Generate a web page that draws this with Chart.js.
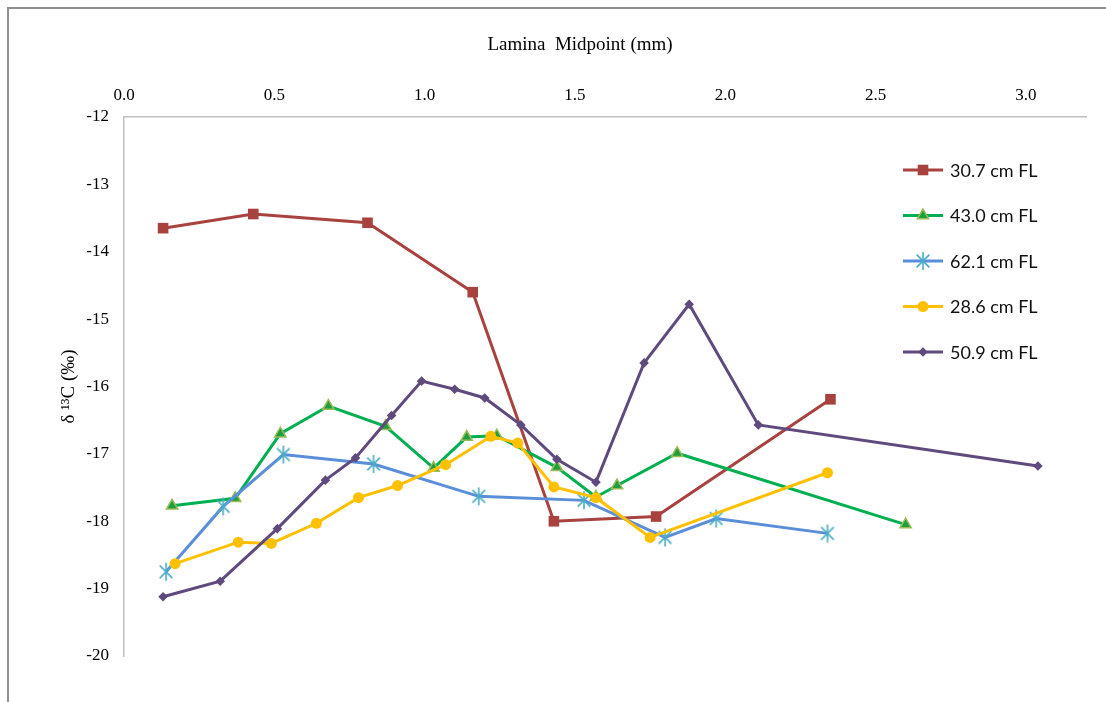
<!DOCTYPE html>
<html>
<head>
<meta charset="utf-8">
<script src="https://cdn.jsdelivr.net/npm/chart.js@4.4.1/dist/chart.umd.min.js"></script>
<style>
  html, body { margin: 0; padding: 0; background: #fff; }
  #wrap { width: 1106px; height: 702px; position: relative; }
</style>
</head>
<body>
<div id="wrap"><canvas id="c" width="1106" height="702"></canvas></div>
<script>
// Lamina midpoint (mm) and δ13C (‰) for each fish
const seriesNames = ['30.7 cm FL', '43.0 cm FL', '62.1 cm FL', '28.6 cm FL', '50.9 cm FL'];

const fl307X = [0.13, 0.43, 0.81, 1.16, 1.43, 1.77, 2.35];
const fl307Y = [-13.65, -13.44, -13.57, -14.60, -18.00, -17.93, -16.19];

const fl430X = [0.16, 0.37, 0.52, 0.68, 0.87, 1.03, 1.14, 1.24, 1.44, 1.57, 1.64, 1.84, 2.60];
const fl430Y = [-17.77, -17.66, -16.70, -16.29, -16.59, -17.21, -16.75, -16.73, -17.20, -17.64, -17.47, -16.99, -18.05];

const fl621X = [0.14, 0.33, 0.53, 0.83, 1.18, 1.53, 1.80, 1.97, 2.34];
const fl621Y = [-18.75, -17.78, -17.01, -17.15, -17.63, -17.69, -18.24, -17.96, -18.18];

const fl286X = [0.17, 0.38, 0.49, 0.64, 0.78, 0.91, 1.07, 1.22, 1.31, 1.43, 1.57, 1.75, 2.34];
const fl286Y = [-18.63, -18.31, -18.33, -18.03, -17.65, -17.47, -17.16, -16.74, -16.84, -17.49, -17.65, -18.24, -17.28];

const fl509X = [0.13, 0.32, 0.51, 0.67, 0.77, 0.89, 0.99, 1.10, 1.20, 1.32, 1.44, 1.57, 1.73, 1.88, 2.11, 3.04];
const fl509Y = [-19.12, -18.89, -18.11, -17.39, -17.06, -16.43, -15.92, -16.04, -16.17, -16.57, -17.08, -17.42, -15.65, -14.78, -16.57, -17.18];

const xTickValues = [0.0, 0.5, 1.0, 1.5, 2.0, 2.5, 3.0];
const yTickValues = [-20, -19, -18, -17, -16, -15, -14, -13, -12];

const xTitle = 'Lamina  Midpoint (mm)';
const yTitle = 'δ ¹³C (‰)';

const toPoints = (xs, ys) => xs.map((x, i) => ({ x: x, y: ys[i] }));

// six-spoke asterisk marker
function makeStar(color) {
  const s = 20;
  const cv = document.createElement('canvas');
  cv.width = s; cv.height = s;
  const g = cv.getContext('2d');
  g.strokeStyle = color;
  g.lineWidth = 1.6;
  const c = s / 2, r = 9;
  g.beginPath();
  g.moveTo(c, c - r); g.lineTo(c, c + r);
  const a = Math.PI / 4;
  g.moveTo(c - r * Math.cos(a), c - r * Math.sin(a)); g.lineTo(c + r * Math.cos(a), c + r * Math.sin(a));
  g.moveTo(c + r * Math.cos(a), c - r * Math.sin(a)); g.lineTo(c - r * Math.cos(a), c + r * Math.sin(a));
  g.stroke();
  return cv;
}
const starMarker = makeStar('#4BACC6');

const styles = [
  { line: '#A8423F', fill: '#A8423F', border: '#A8423F', style: 'rect', r: 7.5, bw: 0 },
  { line: '#00B050', fill: '#1E9E3C', border: '#9BBB59', style: 'triangle', r: 6.5, bw: 1.5 },
  { line: '#5A8ED8', fill: '#4BACC6', border: '#4BACC6', style: starMarker, r: 10, bw: 0 },
  { line: '#FFC000', fill: '#FFC000', border: '#FFC000', style: 'circle', r: 5.5, bw: 0 },
  { line: '#5F4A7D', fill: '#5F4A7D', border: '#5F4A7D', style: 'rectRot', r: 4.8, bw: 0 }
];
const seriesData = [
  toPoints(fl307X, fl307Y),
  toPoints(fl430X, fl430Y),
  toPoints(fl621X, fl621Y),
  toPoints(fl286X, fl286Y),
  toPoints(fl509X, fl509Y)
];

const datasets = seriesData.map((d, i) => ({
  label: seriesNames[i],
  data: d,
  borderColor: styles[i].line,
  borderWidth: 3,
  backgroundColor: styles[i].fill,
  pointBackgroundColor: styles[i].fill,
  pointBorderColor: styles[i].border,
  pointBorderWidth: styles[i].bw,
  pointStyle: styles[i].style,
  pointRadius: styles[i].r,
  pointHoverRadius: styles[i].r,
  tension: 0,
  order: seriesData.length - i
}));

const frame = {
  id: 'frame',
  beforeDraw(chart) {
    const ctx = chart.ctx;
    ctx.save();
    ctx.fillStyle = '#fff';
    ctx.fillRect(0, 0, chart.width, chart.height);
    ctx.strokeStyle = '#8f8f8f';
    ctx.lineWidth = 2;
    ctx.beginPath();
    ctx.moveTo(8, chart.height); ctx.lineTo(8, 8); ctx.lineTo(chart.width, 8);
    ctx.stroke();
    ctx.restore();
  }
};

const topTitle = {
  id: 'topTitle',
  afterDraw(chart) {
    const ctx = chart.ctx;
    ctx.save();
    ctx.font = '19px "Liberation Serif", "Times New Roman", serif';
    ctx.fillStyle = '#000';
    ctx.textAlign = 'center';
    ctx.textBaseline = 'middle';
    ctx.fillText(xTitle, 580, 45);
    ctx.restore();
  }
};

const sideLegend = {
  id: 'sideLegend',
  afterDraw(chart) {
    const ctx = chart.ctx;
    const x0 = 903, x1 = 943, tx = 950;
    const y0 = 170, dy = 45.5;
    ctx.save();
    chart.data.datasets.forEach((ds, i) => {
      const y = y0 + i * dy;
      ctx.strokeStyle = ds.borderColor;
      ctx.lineWidth = 3;
      ctx.beginPath();
      ctx.moveTo(x0, y); ctx.lineTo(x1, y);
      ctx.stroke();
      ctx.fillStyle = ds.pointBackgroundColor;
      ctx.strokeStyle = ds.pointBorderColor;
      ctx.lineWidth = ds.pointBorderWidth;
      Chart.helpers.drawPoint(ctx, {
        pointStyle: ds.pointStyle,
        radius: ds.pointRadius,
        rotation: 0,
        borderWidth: ds.pointBorderWidth
      }, (x0 + x1) / 2, y);
      ctx.fillStyle = '#111';
      ctx.font = '18px Lato, "Noto Sans", sans-serif';
      ctx.textAlign = 'left';
      ctx.textBaseline = 'middle';
      ctx.fillText(ds.label, tx, y + 1);
    });
    ctx.restore();
  }
};

const tickFont = { family: '"Liberation Serif", "Times New Roman", serif', size: 17 };
const yTitleFont = { family: '"Liberation Serif", "Times New Roman", serif', size: 19 };

new Chart(document.getElementById('c'), {
  type: 'line',
  data: { datasets: datasets },
  plugins: [frame, topTitle, sideLegend],
  options: {
    responsive: false,
    animation: false,
    devicePixelRatio: 1,
    layout: { padding: { left: 58, top: 60, right: 20, bottom: 46 } },
    plugins: { legend: { display: false }, tooltip: { enabled: false } },
    scales: {
      x: {
        type: 'linear',
        position: 'top',
        min: 0,
        max: 3.2,
        afterBuildTicks: (s) => { s.ticks = xTickValues.map(v => ({ value: v })); },
        afterFit: (s) => { s.height = 57; },
        ticks: {
          padding: 11,
          color: '#000',
          font: tickFont,
          maxRotation: 0,
          callback: (v) => Number(v).toFixed(1)
        },
        grid: { display: true, drawOnChartArea: false, drawTicks: false, color: 'rgba(0,0,0,0)' },
        border: { display: true, color: '#bfbfbf', width: 1.5 }
      },
      y: {
        type: 'linear',
        position: 'left',
        min: -20,
        max: -12,
        afterBuildTicks: (s) => { s.ticks = yTickValues.map(v => ({ value: v })); },
        afterFit: (s) => { s.width = 66; },
        ticks: {
          padding: 15,
          color: '#000',
          font: tickFont
        },
        title: {
          display: true,
          text: yTitle,
          color: '#000',
          font: yTitleFont,
          padding: { top: 0, bottom: 0 }
        },
        grid: { display: true, drawOnChartArea: false, drawTicks: false, color: 'rgba(0,0,0,0)' },
        border: { display: true, color: '#bfbfbf', width: 1.5 }
      }
    }
  }
});
</script>
</body>
</html>
